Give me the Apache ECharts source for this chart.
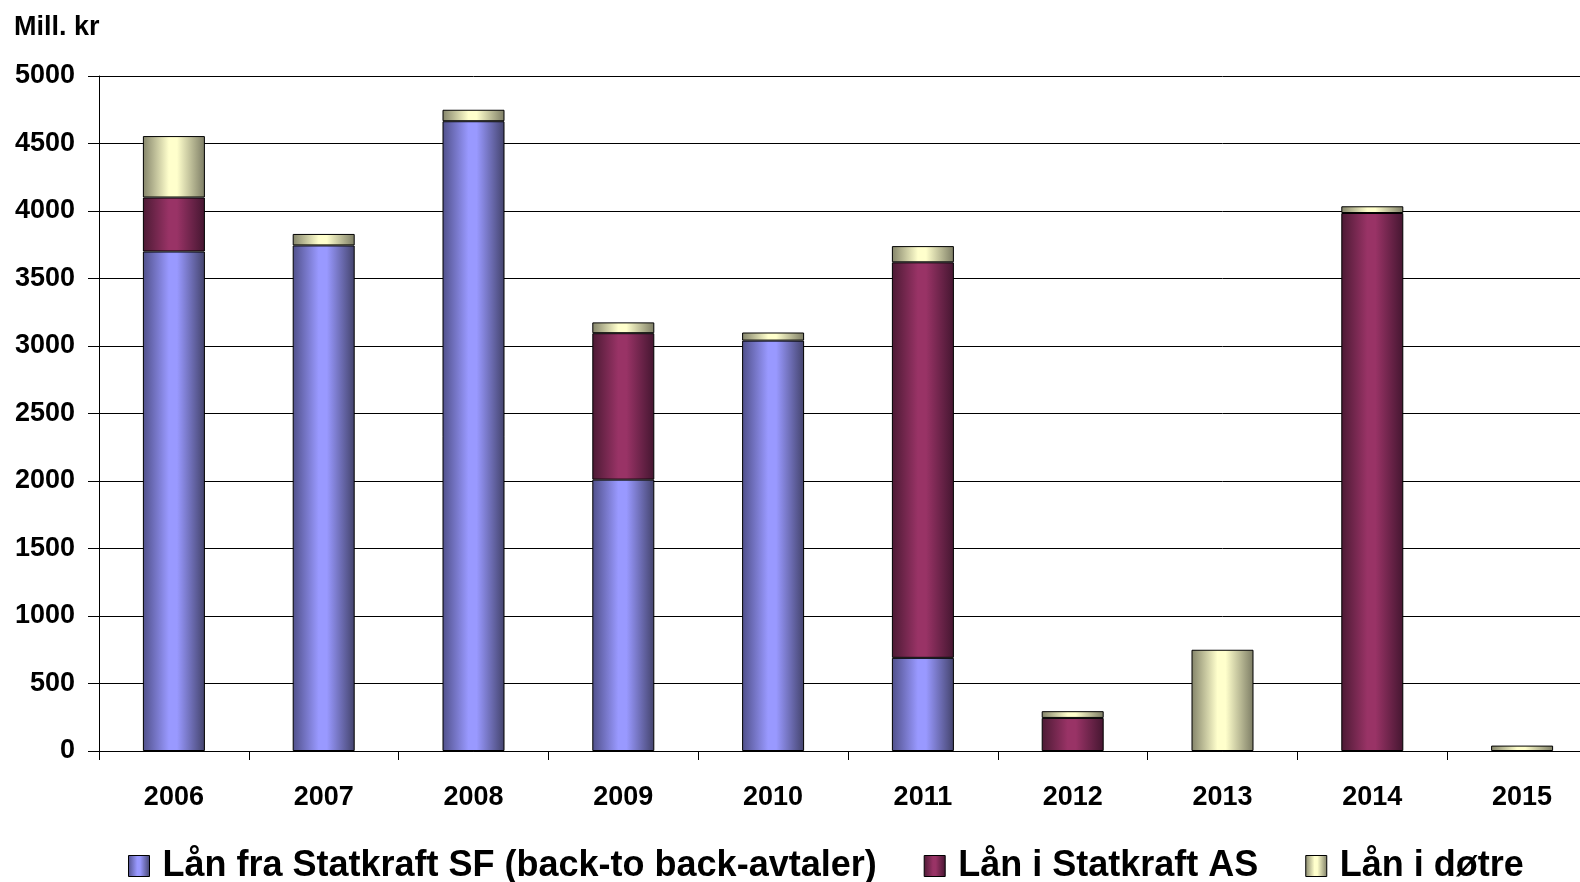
<!DOCTYPE html>
<html>
<head>
<meta charset="utf-8">
<script src="https://cdn.jsdelivr.net/npm/echarts@6/dist/echarts.min.js"></script>
<style>
html,body{margin:0;padding:0;background:#fff;overflow:hidden;width:1580px;height:882px;}
#chart{width:1597px;height:882px;}
</style>
</head>
<body>
<div id="chart"></div>
<script>
const categories = ['2006','2007','2008','2009','2010','2011','2012','2013','2014','2015'];
const lanStatkraftSF = [3700, 3745, 4665, 2010, 3040, 690, null, null, null, null];
const lanStatkraftAS = [400, null, null, 1085, null, 2930, 245, null, 3985, null];
const lanDotre = [455, 85, 85, 80, 60, 120, 50, 750, 50, 40];
const seriesNames = ['Lån fra Statkraft SF (back-to back-avtaler)', 'Lån i Statkraft AS', 'Lån i døtre'];
const yTicks = { min: 0, max: 5000, interval: 500 };

const FONT = '"Liberation Sans", Arial, sans-serif';

function grad(dark1, light, dark2) {
  return new echarts.graphic.LinearGradient(0, 0, 1, 0, [
    { offset: 0, color: dark1 },
    { offset: 0.42, color: light },
    { offset: 0.55, color: light },
    { offset: 1, color: dark2 }
  ]);
}

const fills = [
  grad('#50508a', '#9999ff', '#43436c'),
  grad('#4c1a34', '#993366', '#441630'),
  grad('#84846a', '#ffffcc', '#7c7c64')
];
const solid = ['#9999ff', '#993366', '#ffffcc'];
const dataSets = [lanStatkraftSF, lanStatkraftAS, lanDotre];

const chart = echarts.init(document.getElementById('chart'), null, { renderer: 'canvas' });
chart.setOption({
  animation: false,
  backgroundColor: '#ffffff',
  title: {
    text: 'Mill. kr',
    left: 14,
    top: 14,
    padding: 0,
    textStyle: { fontFamily: FONT, fontSize: 27, fontWeight: 'bold', color: '#000' }
  },
  legend: {
    left: 128,
    top: 848,
    padding: 0,
    itemWidth: 21,
    itemHeight: 21,
    itemGap: 47,
    icon: 'rect',
    itemStyle: { borderColor: '#000', borderWidth: 1 },
    textStyle: { fontFamily: FONT, fontSize: 36, fontWeight: 'bold', color: '#000', padding: [0, 0, 0, 8] },
    data: seriesNames
  },
  grid: { left: 99, right: 0, top: 76, bottom: 131, containLabel: false },
  xAxis: {
    type: 'category',
    data: categories,
    boundaryGap: true,
    axisLine: { show: true, lineStyle: { color: '#000', width: 1 } },
    axisTick: { show: true, length: 9, alignWithLabel: false, lineStyle: { color: '#000' } },
    axisLabel: { margin: 33, fontFamily: FONT, fontSize: 27, fontWeight: 'bold', color: '#000' },
    splitLine: { show: false }
  },
  yAxis: {
    type: 'value',
    min: yTicks.min,
    max: yTicks.max,
    interval: yTicks.interval,
    axisLine: { show: true, lineStyle: { color: '#000', width: 1 } },
    axisTick: { show: true, length: 11, lineStyle: { color: '#000' } },
    axisLabel: { margin: 24, fontFamily: FONT, fontSize: 27, fontWeight: 'bold', color: '#000',
      formatter: v => String(v) },
    splitLine: { show: true, lineStyle: { color: '#000', width: 1 } }
  },
  series: seriesNames.map((name, i) => ({
    name: name,
    type: 'bar',
    stack: 'total',
    barWidth: 62,
    data: dataSets[i],
    color: solid[i],
    itemStyle: { color: fills[i], borderColor: '#000', borderWidth: 1 }
  }))
});
</script>
</body>
</html>
